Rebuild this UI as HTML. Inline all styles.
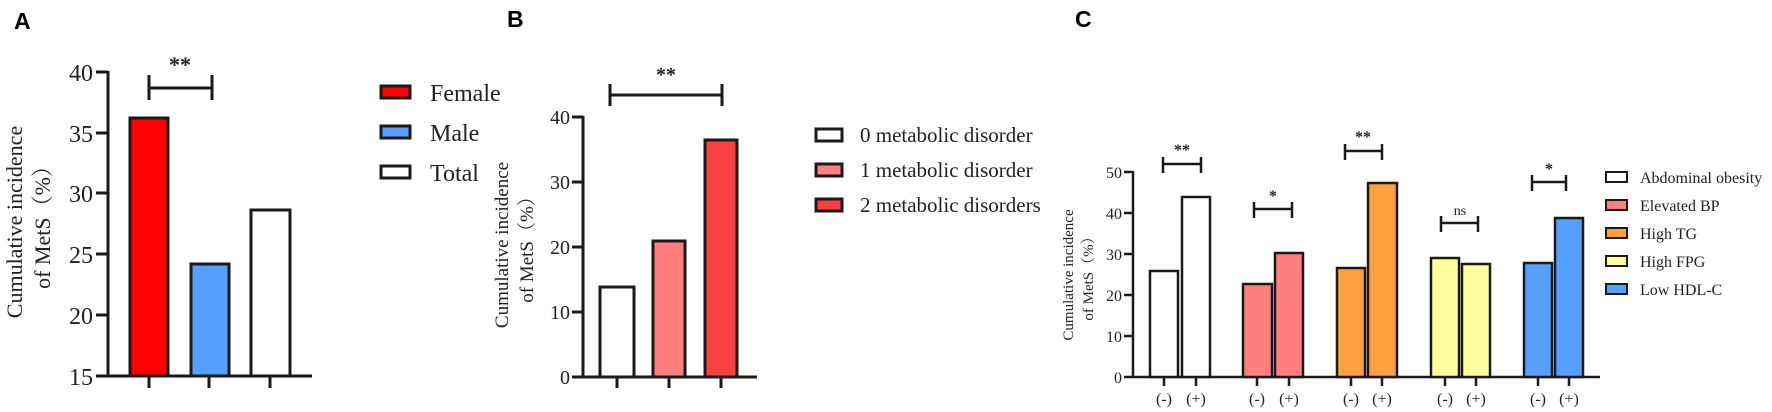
<!DOCTYPE html>
<html><head><meta charset="utf-8"><style>
html,body{margin:0;padding:0;background:#fff;}
svg{display:block;}
.s{font-family:"Liberation Serif","Noto Serif CJK SC",serif;fill:#222;}
.h{font-family:"Liberation Sans",sans-serif;font-weight:bold;fill:#000;}
</style></head><body>
<svg width="1772" height="412" viewBox="0 0 1772 412" xmlns="http://www.w3.org/2000/svg">
<g stroke="#1a1a1a" fill="none">
<!-- Panel A -->
<text class="h" x="14" y="29" font-size="23" stroke="none">A</text>
<g stroke-width="3">
<line x1="108" y1="71" x2="108" y2="376"/>
<line x1="96" y1="376" x2="312" y2="376"/>
<line x1="96" y1="72" x2="108" y2="72"/>
<line x1="96" y1="133" x2="108" y2="133"/>
<line x1="96" y1="193" x2="108" y2="193"/>
<line x1="96" y1="254" x2="108" y2="254"/>
<line x1="96" y1="315" x2="108" y2="315"/>
<line x1="149" y1="376" x2="149" y2="388"/>
<line x1="209" y1="376" x2="209" y2="388"/>
<line x1="270" y1="376" x2="270" y2="388"/>
<rect x="130" y="118" width="38" height="258" fill="#ff0000"/>
<rect x="191" y="264" width="38" height="112" fill="#55a0ff"/>
<rect x="251" y="210" width="39" height="166" fill="#fff"/>
<line x1="149" y1="88" x2="212" y2="88"/>
<line x1="149" y1="75" x2="149" y2="100"/>
<line x1="212" y1="75" x2="212" y2="100"/>
<rect x="381" y="86" width="29" height="12" fill="#ff0000"/>
<rect x="381" y="126" width="29" height="12" fill="#55a0ff"/>
<rect x="381" y="166" width="29" height="12" fill="#fff"/>
</g>
<g stroke="none">
<text class="s" x="180" y="72" font-size="22" text-anchor="middle" font-weight="bold">**</text>
<g class="s" font-size="24" text-anchor="end">
<text x="93" y="81">40</text><text x="93" y="142">35</text><text x="93" y="202">30</text>
<text x="93" y="263">25</text><text x="93" y="324">20</text><text x="93" y="385">15</text>
</g>
<g class="s" font-size="24">
<text x="430" y="101">Female</text><text x="430" y="141">Male</text><text x="430" y="181">Total</text>
</g>
<g class="s" font-size="22" text-anchor="middle">
<text transform="translate(22,222) rotate(-90)">Cumulative incidence</text>
<text transform="translate(50,222) rotate(-90)">of MetS（%）</text>
</g>
</g>

<!-- Panel B -->
<text class="h" x="507" y="27" font-size="23" stroke="none">B</text>
<g stroke-width="3">
<line x1="583" y1="116" x2="583" y2="377"/>
<line x1="572" y1="377" x2="757" y2="377"/>
<line x1="572" y1="117" x2="583" y2="117"/>
<line x1="572" y1="182" x2="583" y2="182"/>
<line x1="572" y1="247" x2="583" y2="247"/>
<line x1="572" y1="312" x2="583" y2="312"/>
<line x1="617" y1="377" x2="617" y2="388"/>
<line x1="669" y1="377" x2="669" y2="388"/>
<line x1="721" y1="377" x2="721" y2="388"/>
<rect x="600" y="287" width="34" height="90" fill="#fff"/>
<rect x="653" y="241" width="32" height="136" fill="#ff7f7f"/>
<rect x="705" y="140" width="32" height="237" fill="#f74040"/>
<line x1="610" y1="95" x2="722" y2="95"/>
<line x1="610" y1="84" x2="610" y2="106"/>
<line x1="722" y1="84" x2="722" y2="106"/>
<rect x="816" y="129" width="26" height="12" fill="#fff"/>
<rect x="816" y="164" width="26" height="12" fill="#ff7f7f"/>
<rect x="816" y="199" width="26" height="12" fill="#f74040"/>
</g>
<g stroke="none">
<text class="s" x="666" y="81" font-size="20" text-anchor="middle" font-weight="bold">**</text>
<g class="s" font-size="20" text-anchor="end">
<text x="570" y="124">40</text><text x="570" y="189">30</text><text x="570" y="254">20</text>
<text x="570" y="319">10</text><text x="570" y="384">0</text>
</g>
<g class="s" font-size="21">
<text x="860" y="142">0 metabolic disorder</text>
<text x="860" y="177">1 metabolic disorder</text>
<text x="860" y="212">2 metabolic disorders</text>
</g>
<g class="s" font-size="19" text-anchor="middle">
<text transform="translate(508,245) rotate(-90)">Cumulative incidence</text>
<text transform="translate(533,245) rotate(-90)">of MetS（%）</text>
</g>
</g>

<!-- Panel C -->
<text class="h" x="1075" y="27" font-size="23" stroke="none">C</text>
<g stroke-width="2.5">
<line x1="1133" y1="171" x2="1133" y2="377"/>
<line x1="1124" y1="377" x2="1600" y2="377"/>
<line x1="1124" y1="172" x2="1133" y2="172"/>
<line x1="1124" y1="213" x2="1133" y2="213"/>
<line x1="1124" y1="254" x2="1133" y2="254"/>
<line x1="1124" y1="295" x2="1133" y2="295"/>
<line x1="1124" y1="336" x2="1133" y2="336"/>
<g>
<line x1="1164" y1="377" x2="1164" y2="386"/><line x1="1196" y1="377" x2="1196" y2="386"/>
<line x1="1257" y1="377" x2="1257" y2="386"/><line x1="1289" y1="377" x2="1289" y2="386"/>
<line x1="1351" y1="377" x2="1351" y2="386"/><line x1="1382" y1="377" x2="1382" y2="386"/>
<line x1="1445" y1="377" x2="1445" y2="386"/><line x1="1476" y1="377" x2="1476" y2="386"/>
<line x1="1538" y1="377" x2="1538" y2="386"/><line x1="1569" y1="377" x2="1569" y2="386"/>
</g>
<rect x="1150" y="271" width="28" height="106" fill="#fff"/>
<rect x="1182" y="197" width="28" height="180" fill="#fff"/>
<rect x="1243" y="284" width="29" height="93" fill="#ff7f7f"/>
<rect x="1275" y="253" width="28" height="124" fill="#ff7f7f"/>
<rect x="1337" y="268" width="28" height="109" fill="#ffa040"/>
<rect x="1368" y="183" width="29" height="194" fill="#ffa040"/>
<rect x="1431" y="258" width="28" height="119" fill="#ffff9f"/>
<rect x="1462" y="264" width="28" height="113" fill="#ffff9f"/>
<rect x="1524" y="263" width="28" height="114" fill="#55a0ff"/>
<rect x="1555" y="218" width="28" height="159" fill="#55a0ff"/>
<path d="M1163 164H1201M1163 157V173M1201 157V173"/>
<path d="M1254 209H1292M1254 202V218M1292 202V218"/>
<path d="M1345 151H1382M1345 144V160M1382 144V160"/>
<path d="M1441 223H1478M1441 216V232M1478 216V232"/>
<path d="M1532 182H1566M1532 175V191M1566 175V191"/>
<g stroke-width="2">
<rect x="1606" y="172" width="21" height="10" fill="#fff"/>
<rect x="1606" y="200" width="21" height="10" fill="#ff7f7f"/>
<rect x="1606" y="228" width="21" height="10" fill="#ffa040"/>
<rect x="1606" y="256" width="21" height="10" fill="#ffff9f"/>
<rect x="1606" y="284" width="21" height="10" fill="#55a0ff"/>
</g>
</g>
<g stroke="none">
<g class="s" font-size="16" text-anchor="middle" font-weight="bold">
<text x="1182" y="155">**</text><text x="1273" y="201">*</text><text x="1363" y="142">**</text>
<text x="1549" y="174">*</text>
</g>
<text class="s" x="1460" y="215" font-size="14" text-anchor="middle">ns</text>
<g class="s" font-size="16" text-anchor="end">
<text x="1122" y="178">50</text><text x="1122" y="219">40</text><text x="1122" y="260">30</text>
<text x="1122" y="301">20</text><text x="1122" y="342">10</text><text x="1122" y="383">0</text>
</g>
<g class="s" font-size="16" text-anchor="middle">
<text x="1164" y="404">(-)</text><text x="1196" y="404">(+)</text>
<text x="1257" y="404">(-)</text><text x="1289" y="404">(+)</text>
<text x="1351" y="404">(-)</text><text x="1382" y="404">(+)</text>
<text x="1445" y="404">(-)</text><text x="1476" y="404">(+)</text>
<text x="1538" y="404">(-)</text><text x="1569" y="404">(+)</text>
</g>
<g class="s" font-size="16">
<text x="1640" y="183">Abdominal obesity</text>
<text x="1640" y="211">Elevated BP</text>
<text x="1640" y="239">High TG</text>
<text x="1640" y="267">High FPG</text>
<text x="1640" y="295">Low HDL-C</text>
</g>
<g class="s" font-size="15" text-anchor="middle">
<text transform="translate(1073,275) rotate(-90)">Cumulative incidence</text>
<text transform="translate(1093,275) rotate(-90)">of MetS（%）</text>
</g>
</g>
</g>
</svg>
</body></html>
